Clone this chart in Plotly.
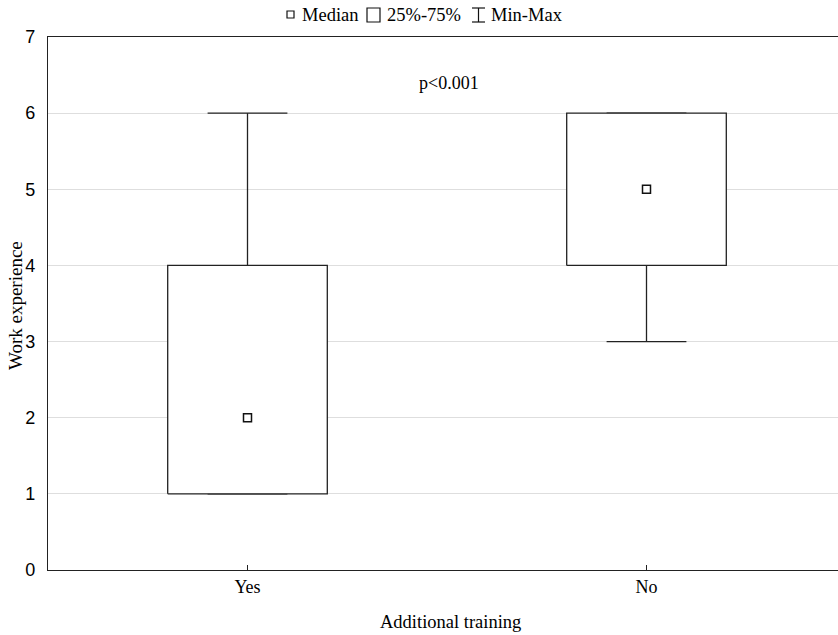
import plotly.graph_objects as go

categories = ["Yes", "No"]
minimum = [1, 3]
q1 = [1, 4]
median = [2, 5]
q3 = [4, 6]
maximum = [6, 6]
y_ticks = [0, 1, 2, 3, 4, 5, 6, 7]

SERIF = "Liberation Serif, Times New Roman, serif"
SANS = "Liberation Sans, Arial, sans-serif"

W, H = 838, 635
ML, MR, MT, MB = 48, 0, 37, 65
PW, PH = W - ML - MR, H - MT - MB

BOX_HW = 0.2
CAP_HW = 0.1

fig = go.Figure()

for i, cat in enumerate(categories):
    # whiskers
    fig.add_trace(go.Scatter(
        x=[i, i, None, i, i, None, i - CAP_HW, i + CAP_HW, None, i - CAP_HW, i + CAP_HW],
        y=[q3[i], maximum[i], None, q1[i], minimum[i], None,
           maximum[i], maximum[i], None, minimum[i], minimum[i]],
        mode="lines", line=dict(color="#222222", width=1.3),
        showlegend=False, hoverinfo="skip"))
    # box
    fig.add_trace(go.Scatter(
        x=[i - BOX_HW, i + BOX_HW, i + BOX_HW, i - BOX_HW, i - BOX_HW],
        y=[q1[i], q1[i], q3[i], q3[i], q1[i]],
        mode="lines", fill="toself", fillcolor="white",
        line=dict(color="#222222", width=1.3),
        showlegend=False, hoverinfo="skip"))

# medians
fig.add_trace(go.Scatter(
    x=list(range(len(categories))), y=median, mode="markers",
    marker=dict(symbol="square-open", size=8, color="#111111", line=dict(width=1.5)),
    showlegend=False, hoverinfo="skip"))


def px_x(p):
    return (p - ML) / PW


def px_y(p):
    return (H - MB - p) / PH


shapes = []
line_style = dict(color="#111111", width=1.2)
# legend: median small square
shapes.append(dict(type="rect", xref="paper", yref="paper",
                   x0=px_x(287), x1=px_x(294), y0=px_y(18), y1=px_y(11), line=line_style))
# legend: box
shapes.append(dict(type="rect", xref="paper", yref="paper",
                   x0=px_x(367), x1=px_x(380), y0=px_y(22), y1=px_y(8), line=line_style))
# legend: I-beam
shapes.append(dict(type="line", xref="paper", yref="paper",
                   x0=px_x(478.5), x1=px_x(478.5), y0=px_y(22), y1=px_y(8), line=line_style))
shapes.append(dict(type="line", xref="paper", yref="paper",
                   x0=px_x(472), x1=px_x(485), y0=px_y(8), y1=px_y(8), line=line_style))
shapes.append(dict(type="line", xref="paper", yref="paper",
                   x0=px_x(472), x1=px_x(485), y0=px_y(22), y1=px_y(22), line=line_style))

annotations = []
for txt, xl in [("Median", 301), ("25%-75%", 386), ("Min-Max", 490)]:
    annotations.append(dict(text=txt, xref="paper", yref="paper", x=px_x(xl), y=px_y(15),
                            xanchor="left", yanchor="middle", showarrow=False, borderpad=0,
                            font=dict(family=SERIF, size=18.5, color="black")))

annotations.append(dict(text="p<0.001", x=0.505, y=6.4, xref="x", yref="y",
                        showarrow=False, font=dict(family=SERIF, size=18, color="black")))

# axis titles
annotations.append(dict(text="Additional training", xref="paper", yref="paper",
                        x=px_x(450), y=px_y(622), xanchor="center", yanchor="middle",
                        showarrow=False, font=dict(family=SERIF, size=18.5, color="black")))
annotations.append(dict(text="Work experience", xref="paper", yref="paper",
                        x=px_x(15), y=px_y(306), xanchor="center", yanchor="middle",
                        textangle=-90, showarrow=False,
                        font=dict(family=SERIF, size=19, color="black")))

fig.update_layout(
    width=W, height=H,
    margin=dict(l=ML, r=MR, t=MT, b=MB),
    plot_bgcolor="white", paper_bgcolor="white",
    shapes=shapes, annotations=annotations,
    showlegend=False,
    xaxis=dict(
        range=[-0.5, -0.5 + PW / 399.0],
        tickvals=list(range(len(categories))), ticktext=categories,
        showgrid=False, zeroline=False,
        showline=True, linecolor="#222222", linewidth=1.3, mirror=True,
        ticks="inside", ticklen=5, tickcolor="#222222",
        tickfont=dict(family=SERIF, size=18, color="black"),
    ),
    yaxis=dict(
        range=[0, 7], tickvals=y_ticks,
        showgrid=True, gridcolor="#dedede", gridwidth=1, zeroline=False,
        showline=True, linecolor="#222222", linewidth=1.3,
        ticks="", ticklabelstandoff=8,
        tickfont=dict(family=SANS, size=18, color="black"),
    ),
)

fig.write_html("out.html", config={"displayModeBar": False},
               post_script="document.body.style.margin='0';document.body.style.padding='0';")
